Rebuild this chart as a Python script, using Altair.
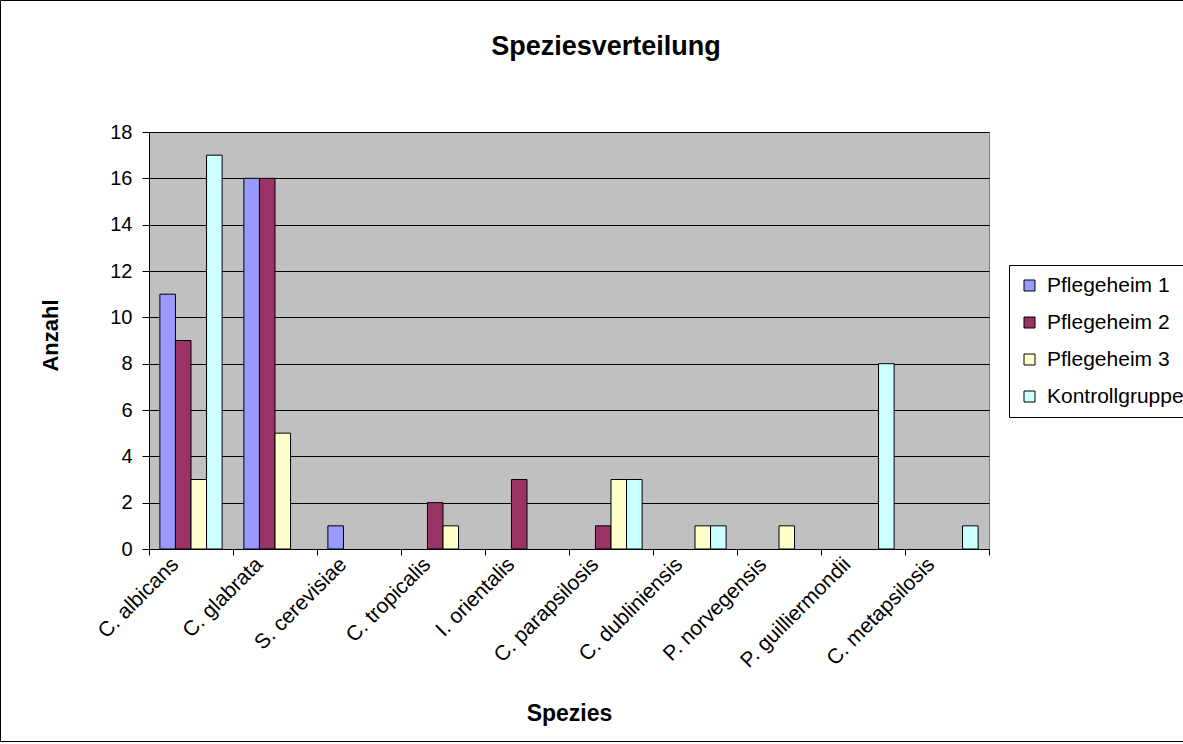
import altair as alt
import pandas as pd

SPECIES = ["C. albicans", "C. glabrata", "S. cerevisiae", "C. tropicalis", "I. orientalis",
           "C. parapsilosis", "C. dubliniensis", "P. norvegensis", "P. guilliermondii", "C. metapsilosis"]
GROUPS = ["Pflegeheim 1", "Pflegeheim 2", "Pflegeheim 3", "Kontrollgruppe"]
PFLEGEHEIM_1 = [11, 16, 1, 0, 0, 0, 0, 0, 0, 0]
PFLEGEHEIM_2 = [9, 16, 0, 2, 3, 1, 0, 0, 0, 0]
PFLEGEHEIM_3 = [3, 5, 0, 1, 0, 3, 1, 1, 0, 0]
KONTROLLGRUPPE = [17, 0, 0, 0, 0, 3, 1, 0, 8, 1]
COLORS = ["#9999FF", "#993366", "#FFFFCC", "#CCFFFF"]
Y_TICKS = [0, 2, 4, 6, 8, 10, 12, 14, 16, 18]

rows = []
for g, vals in zip(GROUPS, [PFLEGEHEIM_1, PFLEGEHEIM_2, PFLEGEHEIM_3, KONTROLLGRUPPE]):
    for s, v in zip(SPECIES, vals):
        rows.append({"Spezies": s, "Gruppe": g, "Anzahl": v})
df = pd.DataFrame(rows)

FONT = "Liberation Sans"

bars = alt.Chart(df).transform_filter("datum.Anzahl > 0").mark_bar(
    stroke="black", strokeWidth=1
).encode(
    x=alt.X("Spezies:N", sort=SPECIES,
            scale=alt.Scale(domain=SPECIES, paddingInner=0, paddingOuter=0),
            axis=alt.Axis(title="Spezies", labelAngle=315, labelAlign="right", labelBaseline="middle",
                          tickBand="extent", grid=False, tickColor="black", tickSize=6,
                          domainColor="black", labelPadding=6, labelOffset=-16, labelFontSize=21,
                          labelColor="black", labelFont=FONT, titleFont=FONT, titleFontSize=23,
                          titleFontWeight="bold", titleColor="black", titleX=420, titleY=171,
                          titleBaseline="alphabetic", titleAlign="center")),
    xOffset=alt.XOffset("Gruppe:N", sort=GROUPS,
                        scale=alt.Scale(domain=GROUPS, paddingInner=0, paddingOuter=0.7)),
    y=alt.Y("Anzahl:Q", scale=alt.Scale(domain=[0, 18], nice=False),
            axis=alt.Axis(title="Anzahl", values=Y_TICKS, grid=True, gridColor="black", gridWidth=1,
                          gridOpacity=1, domainColor="black", tickColor="black", tickSize=7,
                          labelPadding=10, labelFontSize=20, labelColor="black", labelFont=FONT,
                          titleFont=FONT, titleFontSize=22, titleFontWeight="bold", titleColor="black",
                          titleAngle=270, titleX=-92, titleY=203, titleBaseline="alphabetic",
                          titleAlign="center")),
    color=alt.Color("Gruppe:N", sort=GROUPS,
                    scale=alt.Scale(domain=GROUPS, range=COLORS),
                    legend=alt.Legend(title=None, orient="none", legendX=860, legendY=133,
                                      symbolType="square", symbolSize=121, symbolStrokeColor="black",
                                      symbolStrokeWidth=1, labelFont=FONT, labelFontSize=21,
                                      labelColor="black", labelOffset=7, rowPadding=15, padding=10,
                                      strokeColor="black", fillColor="white")),
)

frame = alt.Chart(pd.DataFrame({"f": [0]})).mark_rect(
    fill=None, stroke="black", strokeWidth=1
).encode(
    x=alt.value(-148.5), x2=alt.value(1200), y=alt.value(-131.5), y2=alt.value(609.5)
)

chart = alt.layer(bars, frame).properties(
    width=840, height=417,
    autosize="none",
    padding={"left": 149, "top": 132, "right": 194, "bottom": 195},
    background="white",
    title=alt.TitleParams("Speziesverteilung", font=FONT, fontSize=27, fontWeight="bold",
                          color="black", anchor="middle", frame="group", dx=37,
                          baseline="alphabetic", offset=0, dy=82),
).configure_view(
    fill="#C0C0C0", stroke="#808080", strokeWidth=1
)

chart.save("out.html", embed_options={"renderer": "svg", "actions": False})
